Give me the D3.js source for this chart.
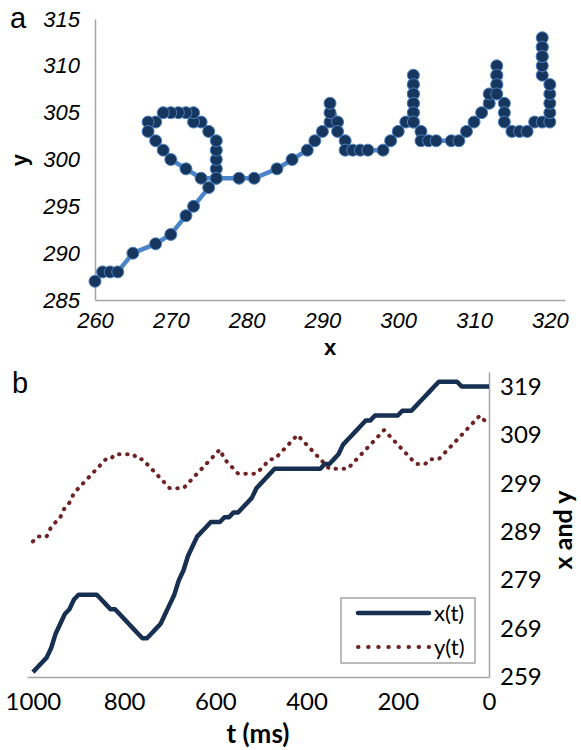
<!DOCTYPE html>
<html>
<head>
<meta charset="utf-8">
<script src="https://cdnjs.cloudflare.com/ajax/libs/d3/7.8.5/d3.min.js"></script>
<style>
    body { margin: 0; background: #fff; }
    svg { display: block; }
</style>
</head>
<body>
<div id="chart"></div>
<script>
// trajectory samples, one every 10 ms
var tMs = [1000, 990, 980, 970, 960, 950, 940, 930, 920, 910,
    900, 890, 880, 870, 860, 850, 840, 830, 820, 810,
    800, 790, 780, 770, 760, 750, 740, 730, 720, 710,
    700, 690, 680, 670, 660, 650, 640, 630, 620, 610,
    600, 590, 580, 570, 560, 550, 540, 530, 520, 510,
    500, 490, 480, 470, 460, 450, 440, 430, 420, 410,
    400, 390, 380, 370, 360, 350, 340, 330, 320, 310,
    300, 290, 280, 270, 260, 250, 240, 230, 220, 210,
    200, 190, 180, 170, 160, 150, 140, 130, 120, 110,
    100, 90, 80, 70, 60, 50, 40, 30, 20, 10,
    0];

var xPos = [260, 261, 262, 263, 265, 268, 270, 272, 273, 275,
    276, 276, 276, 276, 276, 275, 274, 273, 273, 272,
    271, 270, 269, 268, 267, 267, 268, 269, 270, 272,
    274, 276, 279, 281, 284, 286, 288, 289, 290, 291,
    291, 291, 292, 292, 293, 293, 294, 295, 296, 298,
    299, 300, 301, 302, 302, 302, 302, 302, 302, 302,
    302, 302, 302, 302, 303, 303, 304, 305, 307, 308,
    309, 310, 311, 312, 312, 313, 313, 313, 313, 313,
    313, 314, 314, 314, 315, 316, 317, 318, 319, 320,
    320, 320, 320, 320, 319, 319, 319, 319, 319, 319,
    319];

var yPos = [287, 288, 288, 288, 290, 291, 292, 294, 295, 297,
    298, 299, 300, 301, 302, 303, 304, 304, 305, 305,
    305, 305, 305, 304, 304, 303, 302, 301, 300, 299,
    298, 298, 298, 298, 299, 300, 301, 302, 303, 304,
    305, 306, 304, 303, 302, 301, 301, 301, 301, 301,
    302, 303, 304, 304, 305, 306, 307, 308, 309, 308,
    307, 306, 305, 304, 303, 302, 302, 302, 302, 302,
    303, 304, 305, 306, 307, 308, 309, 310, 309, 308,
    307, 306, 305, 304, 303, 303, 303, 304, 304, 304,
    305, 306, 307, 308, 309, 310, 311, 312, 313, 312,
    311];

var aXTicks = [260, 270, 280, 290, 300, 310, 320];
var aYTicks = [285, 290, 295, 300, 305, 310, 315];
var bTimeTicks = [1000, 800, 600, 400, 200, 0];
var bValueTicks = [259, 269, 279, 289, 299, 309, 319];
var seriesNames = ["x(t)", "y(t)"];

(function() {
    var width = 581,
        height = 750;

    var axisGrey = "#a5a5a5",
        arial = "'Liberation Sans', Arial, sans-serif",
        calibri = "Lato, 'Open Sans', sans-serif";

    var pts = tMs.map((t, i) => ({t: t, x: xPos[i], y: yPos[i]}));

    var svg = d3.select("#chart")
        .append("svg")
        .attr("width", width)
        .attr("height", height);

    // ---------- panel a : y against x ----------
    var xA = d3.scaleLinear().domain([260, 322]).range([95, 565]),
        yA = d3.scaleLinear().domain([285, 315]).range([300, 19]);

    var gA = svg.append("g");

    var axA_x = gA.append("g")
        .attr("transform", "translate(0,300)")
        .call(d3.axisBottom(xA).tickValues(aXTicks).tickSize(0).tickPadding(12));
    var axA_y = gA.append("g")
        .attr("transform", "translate(95,0)")
        .call(d3.axisLeft(yA).tickValues(aYTicks).tickSize(0).tickPadding(15));

    [axA_x, axA_y].forEach(ax => {
        ax.select(".domain").attr("stroke", axisGrey).attr("stroke-width", 1.5);
        ax.selectAll("text")
            .attr("fill", "#000")
            .style("font-family", arial)
            .style("font-style", "italic")
            .style("font-size", "22px");
    });

    gA.append("path")
        .datum(pts)
        .attr("fill", "none")
        .attr("stroke", "#4a84c9")
        .attr("stroke-width", 4.5)
        .attr("stroke-linejoin", "round")
        .attr("d", d3.line().x(d => xA(d.x)).y(d => yA(d.y)));

    gA.selectAll(".dot")
        .data(pts)
        .enter().append("circle")
        .attr("class", "dot")
        .attr("cx", d => xA(d.x))
        .attr("cy", d => yA(d.y))
        .attr("r", 6)
        .attr("fill", "#17365e")
        .attr("stroke", "#4a7fc0")
        .attr("stroke-width", 1);

    svg.append("text")
        .attr("x", 10).attr("y", 28)
        .style("font-family", arial).style("font-size", "29px")
        .text("a");

    svg.append("text")
        .attr("transform", "translate(27,160) rotate(-90)")
        .attr("text-anchor", "middle")
        .style("font-family", arial).style("font-size", "22px").style("font-weight", "bold")
        .text("y");

    svg.append("text")
        .attr("x", 330).attr("y", 355)
        .attr("text-anchor", "middle")
        .style("font-family", arial).style("font-size", "22px").style("font-weight", "bold")
        .text("x");

    // ---------- panel b : x and y against time ----------
    var xB = d3.scaleLinear().domain([1013, 0]).range([27, 489]),
        yB = d3.scaleLinear().domain([259, 322]).range([677, 372]);

    var gB = svg.append("g");

    var axB_x = gB.append("g")
        .attr("transform", "translate(0,677)")
        .call(d3.axisBottom(xB).tickValues(bTimeTicks).tickSize(0).tickPadding(16).tickFormat(d3.format("d")));
    var axB_y = gB.append("g")
        .attr("transform", "translate(489,0)")
        .call(d3.axisRight(yB).tickValues(bValueTicks).tickSize(0).tickPadding(11));

    [axB_x, axB_y].forEach(ax => {
        ax.select(".domain").attr("stroke", axisGrey).attr("stroke-width", 1.5);
        ax.selectAll("text")
            .attr("fill", "#000")
            .style("font-family", calibri)
            .style("font-size", "24px");
    });

    var lineX = d3.line().x(d => xB(d.t)).y(d => yB(d.x)),
        lineY = d3.line().x(d => xB(d.t)).y(d => yB(d.y));

    gB.append("path")
        .datum(pts)
        .attr("fill", "none")
        .attr("stroke", "#6e2424")
        .attr("stroke-width", 4)
        .attr("stroke-linecap", "round")
        .attr("stroke-dasharray", "0.5 7.6")
        .attr("d", lineY);

    gB.append("path")
        .datum(pts)
        .attr("fill", "none")
        .attr("stroke", "#172f50")
        .attr("stroke-width", 4.5)
        .attr("stroke-linejoin", "round")
        .attr("d", lineX);

    // legend
    var legend = gB.append("g").attr("transform", "translate(341,598)");
    legend.append("rect")
        .attr("width", 134).attr("height", 65)
        .attr("fill", "#fff")
        .attr("stroke", axisGrey)
        .attr("stroke-width", 1.5);

    var item = legend.selectAll(".item")
        .data(seriesNames)
        .enter().append("g")
        .attr("class", "item")
        .attr("transform", (d, i) => "translate(0," + (15 + i * 34) + ")");

    item.append("line")
        .attr("x1", 17).attr("x2", 88)
        .attr("stroke", (d, i) => i == 0 ? "#172f50" : "#6e2424")
        .attr("stroke-width", (d, i) => i == 0 ? 4.5 : 4)
        .attr("stroke-linecap", "round")
        .attr("stroke-dasharray", (d, i) => i == 0 ? null : "0.5 9.6");

    item.append("text")
        .attr("x", 93).attr("y", 8)
        .style("font-family", calibri).style("font-size", "22px")
        .text(d => d);

    svg.append("text")
        .attr("x", 12).attr("y", 393)
        .style("font-family", arial).style("font-size", "29px")
        .text("b");

    svg.append("text")
        .attr("x", 258).attr("y", 743)
        .attr("text-anchor", "middle")
        .style("font-family", calibri).style("font-size", "26px").style("font-weight", "bold")
        .text("t (ms)");

    svg.append("text")
        .attr("transform", "translate(572,530) rotate(-90)")
        .attr("text-anchor", "middle")
        .style("font-family", calibri).style("font-size", "25px").style("font-weight", "bold")
        .text("x and y");
})();
</script>
</body>
</html>
